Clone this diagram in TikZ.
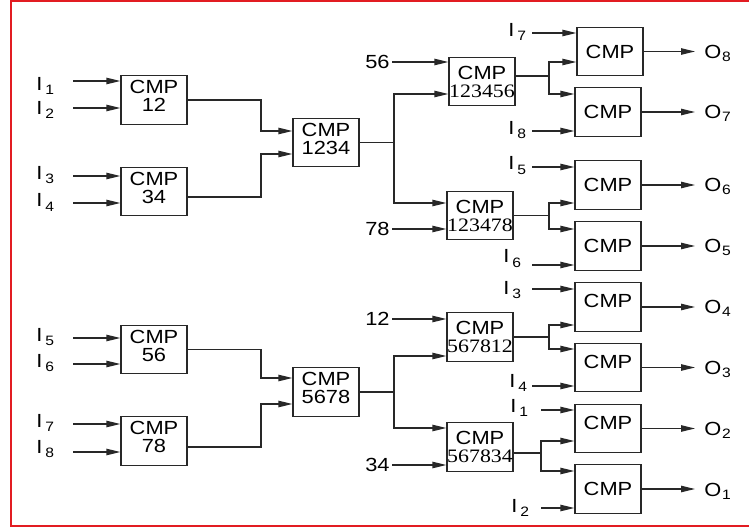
\documentclass[tikz,border=0pt]{standalone}
\usepackage{fontspec}
\setmainfont{Liberation Sans}[FakeStretch=1.15]
\newfontfamily\digitserif{Liberation Serif}[FakeStretch=1.15]
\usetikzlibrary{arrows.meta, positioning, calc}
\definecolor{framered}{RGB}{226, 28, 34}
\definecolor{wiregray}{RGB}{40, 40, 40}
\newcommand{\insig}[1]{I\kern1.5pt\raisebox{-2pt}{\fontsize{6.8}{7}\selectfont #1}}
\newcommand{\outsig}[1]{O\kern0.3pt\raisebox{-1.5pt}{\fontsize{6.8}{7}\selectfont #1}}
\newcommand{\lowstrut}{\rule[-4pt]{0pt}{0pt}}

\begin{document}
\begin{tikzpicture}[
        x=0.5pt, y=-0.5pt,
        font=\fontsize{9.5}{9}\selectfont,
        cmp/.style={rectangle, draw=wiregray, line width=0.6pt, minimum width=33pt, minimum height=24.25pt, inner sep=0pt, align=center},
        cmphi/.style={cmp, text depth=6pt},
        sig/.style={anchor=base west, inner sep=0pt},
        num/.style={anchor=east, inner xsep=1pt, inner ysep=0pt},
        arrow/.style={-{Triangle[length=7pt, width=3.2pt]}, draw=wiregray, line width=0.6pt}
    ]
    \useasboundingbox (0,0) rectangle (749,529);
    \draw[framered, line width=0.9pt] (760,1) -- (11,1) -- (11,526) -- (760,526);

    % first and second stage
    \node[cmp] (c12) at (154,100) {CMP\\12\lowstrut};
    \node[cmp] (c34) at (154,191.5) {CMP\\34\lowstrut};
    \node[cmp] (c56) at (154,349.5) {CMP\\56\lowstrut};
    \node[cmp] (c78) at (154,441) {CMP\\78\lowstrut};
    \node[cmp] (c1234) at (326,142.5) {CMP\\1234\lowstrut};
    \node[cmp] (c5678) at (326,392) {CMP\\5678\lowstrut};

    % third stage
    \node[cmp] (c123456) at (482,81.5) {CMP\\\digitserif 123456};
    \node[cmp] (c123478) at (480,215.5) {CMP\\\digitserif 123478};
    \node[cmp] (c567812) at (480,337) {CMP\\\digitserif 567812};
    \node[cmp] (c567834) at (480,447) {CMP\\\digitserif 567834};

    % last stage
    \node[cmp] (b8) at (610,51.5) {CMP};
    \node[cmp] (b7) at (608,112) {CMP};
    \node[cmp] (b6) at (608,185) {CMP};
    \node[cmp] (b5) at (608,246) {CMP};
    \node[cmphi] (b4) at (608,307) {CMP};
    \node[cmphi] (b3) at (608,367.5) {CMP};
    \node[cmphi] (b2) at (608,428.5) {CMP};
    \node[cmp] (b1) at (608,489) {CMP};

    \coordinate (j1) at (261,0);
    \coordinate (j2) at (394,0);
    \coordinate (j3) at (549,0);
    \coordinate (j4) at (541,0);
    \coordinate (oend) at (695,0);

    % inputs
    \foreach \n/\y/\lb/\tgt in {1/81/91/c12, 2/108/115/c12, 3/176/180/c34, 4/203/207/c34,
                                5/338/341/c56, 6/364/367/c56, 7/424/427/c78, 8/452/453/c78} {
        \coordinate (a\n) at (73,\y);
        \node[sig] (ia\n) at (36,\lb) {\insig{\n}};
        \draw[arrow] (a\n) -- (\tgt.west |- a\n);
    }
    \foreach \n/\y/\sx/\lx/\lb/\tgt in {7/33/532/508/37/b8, 8/131/532/508/135/b7, 5/167/532/508/170/b6,
                                        6/265/532/503/263/b5, 3/289/532/503/294/b4, 4/386/532/509/387/b3,
                                        1/410/541/510/412/b2, 2/508/541/511/512/b1} {
        \coordinate (s\n) at (\sx,\y);
        \node[sig] (is\n) at (\lx,\lb) {\insig{\n}};
        \draw[arrow] (s\n) -- (\tgt.west |- s\n);
    }
    \foreach \v/\tgt/\dy in {56/c123456/-19.5, 78/c123478/13.5, 12/c567812/-18, 34/c567834/18} {
        \node[num] (n\v) at ($(j2 |- \tgt.west)+(-2,\dy)$) {\v};
        \draw[arrow] (n\v) -- (\tgt.west |- n\v);
    }

    % tree of comparators
    \draw[arrow] (c12.east) -- (c12.east -| j1) |- ($(c1234.west)+(0,-11.5)$);
    \draw[arrow] ($(c34.east)+(0,5.5)$) -- ($(c34.east -| j1)+(0,5.5)$) |- ($(c1234.west)+(0,11.5)$);
    \draw[arrow] (c56.east) -- (c56.east -| j1) |- ($(c5678.west)+(0,-14)$);
    \draw[arrow] ($(c78.east)+(0,6)$) -- ($(c78.east -| j1)+(0,6)$) |- ($(c5678.west)+(0,12)$);
    \foreach \src/\tgt/\dy in {c1234/c123456/12.5, c1234/c123478/-12.5, c5678/c567812/19, c5678/c567834/-19}
        \draw[arrow] (\src.east) -- (\src.east -| j2) |- ($(\tgt.west)+(0,\dy)$);
    \foreach \src/\dya/\jn/\tgt/\dyb in {c123456/-5.5/j3/b8/10.5, c123456/-5.5/j3/b7/-18,
                                         c123478/0/j3/b6/18, c123478/0/j3/b5/-17,
                                         c567812/0/j3/b4/18, c567812/0/j3/b3/-18.5,
                                         c567834/6/j4/b2/12.5, c567834/6/j4/b1/-18}
        \draw[arrow] ($(\src.east)+(0,\dya)$) -- ($(\src.east -| \jn)+(0,\dya)$) |- ($(\tgt.west)+(0,\dyb)$);

    % outputs
    \foreach \k in {1,...,8} {
        \draw[arrow] (b\k.east) -- (b\k.east -| oend);
        \node[sig] (o\k) at ($(b\k.east -| oend)+(9,7)$) {\outsig{\k}};
    }
\end{tikzpicture}
\end{document}
